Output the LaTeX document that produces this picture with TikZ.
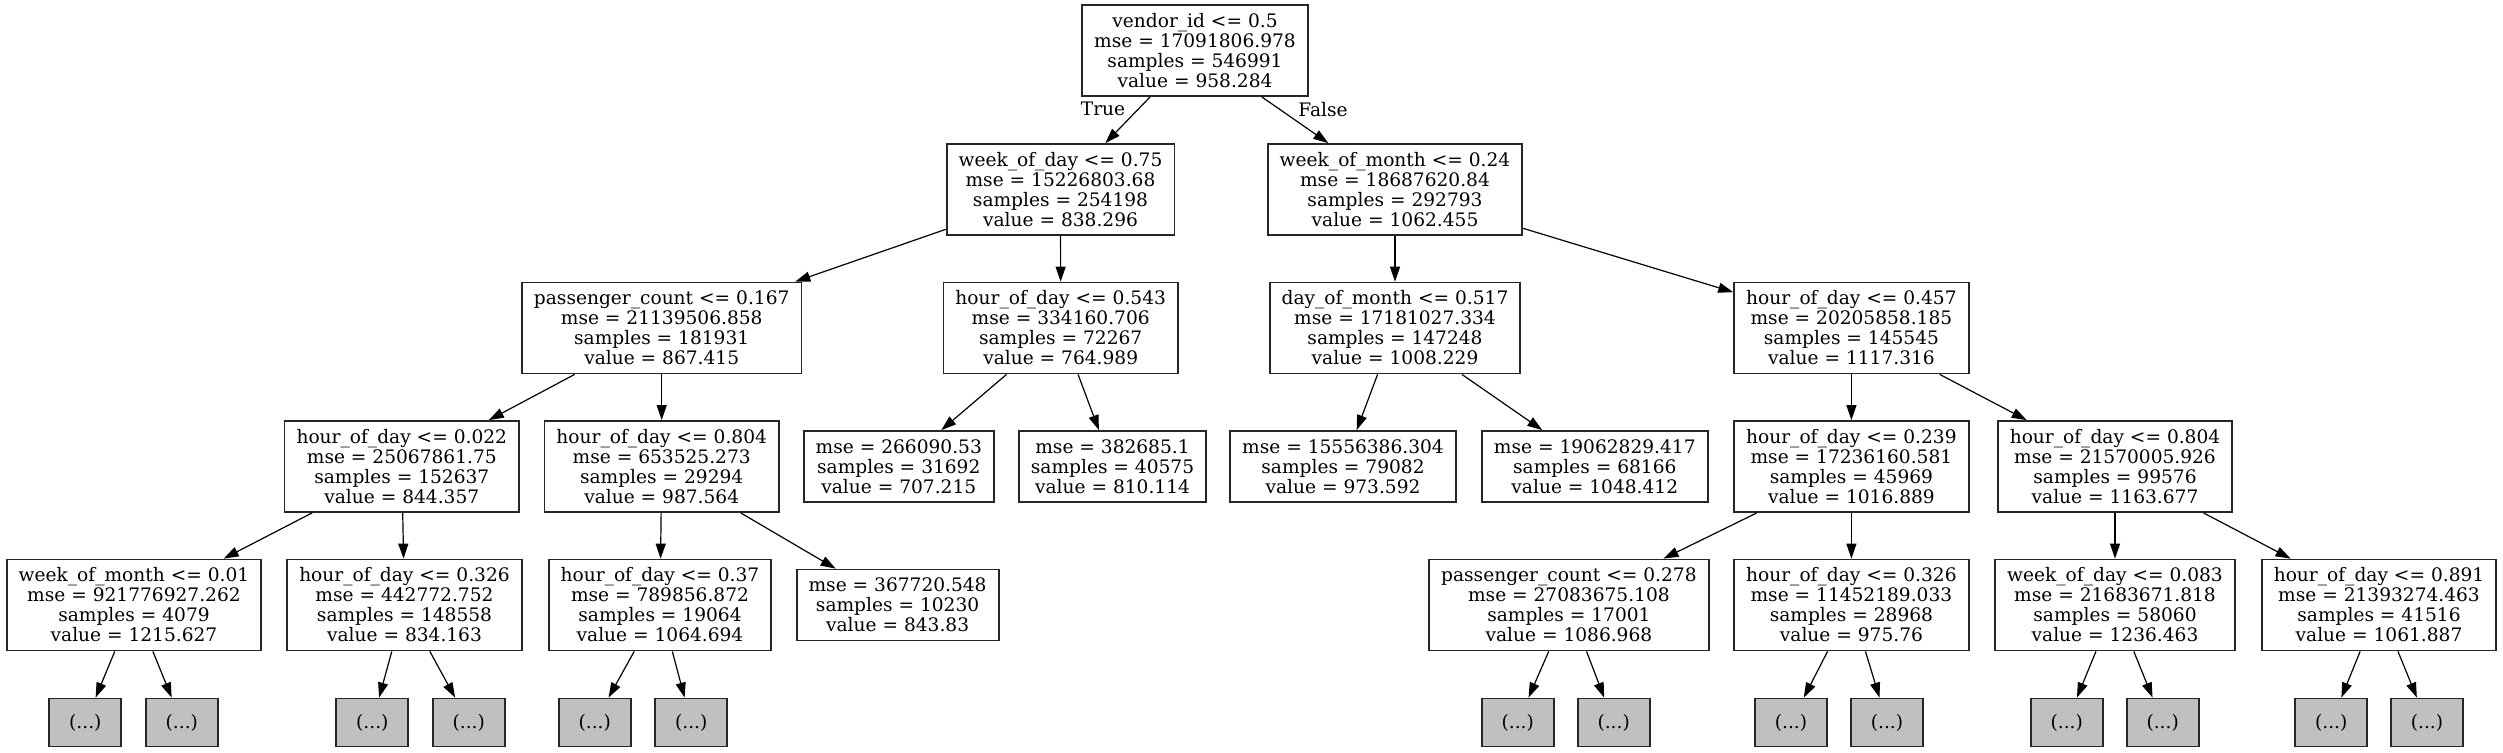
\documentclass[tikz,border=0pt]{standalone}
\usepackage{fontspec}
\setmainfont{DejaVu Serif}
\usetikzlibrary{arrows.meta}

\definecolor{elidedgray}{HTML}{C0C0C0}

\tikzset{
	every node/.style={font=\fontsize{9.3}{10}\selectfont},
	decision/.style={draw=black!85, line width=0.9pt, fill=white, align=center,
		inner xsep=6pt, inner ysep=0pt, minimum height=45.5pt},
	leafbox/.style={decision, minimum height=35.5pt},
	elided/.style={draw=black!85, line width=0.9pt, fill=elidedgray,
		minimum width=36pt, minimum height=24pt, inner sep=0pt},
	edge/.style={-{Triangle[length=7.5pt,width=5pt]}, line width=0.6pt},
}

\begin{document}
\begin{tikzpicture}[x=0.5pt, y=-0.5pt]
		\useasboundingbox (0, 0) rectangle (2503, 752);
		% level 0 - 2
		\node[decision] (root) at (1195, 50.5) {vendor\_id <= 0.5\\mse = 17091806.978\\samples = 546991\\value = 958.284};
		\node[decision] (wd) at (1060.5, 189.5) {week\_of\_day <= 0.75\\mse = 15226803.68\\samples = 254198\\value = 838.296};
		\node[decision] (wm) at (1395, 189.5) {week\_of\_month <= 0.24\\mse = 18687620.84\\samples = 292793\\value = 1062.455};
		\node[decision] (pc) at (661.7, 328) {passenger\_count <= 0.167\\mse = 21139506.858\\samples = 181931\\value = 867.415};
		\node[decision] (hdA) at (1060.7, 328) {hour\_of\_day <= 0.543\\mse = 334160.706\\samples = 72267\\value = 764.989};
		\node[decision] (dm) at (1395, 328) {day\_of\_month <= 0.517\\mse = 17181027.334\\samples = 147248\\value = 1008.229};
		\node[decision] (hdB) at (1851.4, 328) {hour\_of\_day <= 0.457\\mse = 20205858.185\\samples = 145545\\value = 1117.316};
		% level 3
		\node[decision] (hdC) at (401.8, 466.5) {hour\_of\_day <= 0.022\\mse = 25067861.75\\samples = 152637\\value = 844.357};
		\node[decision] (hdD) at (661.7, 466.5) {hour\_of\_day <= 0.804\\mse = 653525.273\\samples = 29294\\value = 987.564};
		\node[leafbox] (lfA) at (898.8, 466.5) {mse = 266090.53\\samples = 31692\\value = 707.215};
		\node[leafbox] (lfB) at (1112.5, 466.5) {mse = 382685.1\\samples = 40575\\value = 810.114};
		\node[leafbox] (lfC) at (1343, 466.5) {mse = 15556386.304\\samples = 79082\\value = 973.592};
		\node[leafbox] (lfD) at (1594.8, 466.5) {mse = 19062829.417\\samples = 68166\\value = 1048.412};
		\node[decision] (hdE) at (1851.4, 466.5) {hour\_of\_day <= 0.239\\mse = 17236160.581\\samples = 45969\\value = 1016.889};
		\node[decision] (hdF) at (2115, 466.5) {hour\_of\_day <= 0.804\\mse = 21570005.926\\samples = 99576\\value = 1163.677};
		% level 4
		\node[decision] (wmB) at (134, 605) {week\_of\_month <= 0.01\\mse = 921776927.262\\samples = 4079\\value = 1215.627};
		\node[decision] (hdG) at (404.5, 605) {hour\_of\_day <= 0.326\\mse = 442772.752\\samples = 148558\\value = 834.163};
		\node[decision] (hdH) at (660, 605) {hour\_of\_day <= 0.37\\mse = 789856.872\\samples = 19064\\value = 1064.694};
		\node[leafbox] (lfE) at (897.6, 605) {mse = 367720.548\\samples = 10230\\value = 843.83};
		\node[decision] (pcB) at (1568.9, 605) {passenger\_count <= 0.278\\mse = 27083675.108\\samples = 17001\\value = 1086.968};
		\node[decision] (hdI) at (1851.4, 605) {hour\_of\_day <= 0.326\\mse = 11452189.033\\samples = 28968\\value = 975.76};
		\node[decision] (wdB) at (2115, 605) {week\_of\_day <= 0.083\\mse = 21683671.818\\samples = 58060\\value = 1236.463};
		\node[decision] (hdJ) at (2379, 605) {hour\_of\_day <= 0.891\\mse = 21393274.463\\samples = 41516\\value = 1061.887};
		% truncated subtrees
		\foreach \n/\x in {eA/85.3, eB/181.8, eC/372.3, eD/468.7, eE/594.7, eF/691.2,
			eG/1517.7, eH/1613.6, eI/1791, eJ/1887, eK/2066.7, eL/2162.6, eM/2331.2, eN/2427} {
			\node[elided] (\n) at (\x, 722.5) {(...)};
		}
		% branch labels
		\node (true) at (1103, 109) {True};
		\node (false) at (1323, 110) {False};
		% edges
		\foreach \p/\c in {root/wd, root/wm, wd/pc, wd/hdA, wm/dm, wm/hdB,
			pc/hdC, pc/hdD, hdA/lfA, hdA/lfB, dm/lfC, dm/lfD, hdB/hdE, hdB/hdF,
			hdC/wmB, hdC/hdG, hdD/hdH, hdD/lfE, hdE/pcB, hdE/hdI, hdF/wdB, hdF/hdJ,
			wmB/eA, wmB/eB, hdG/eC, hdG/eD, hdH/eE, hdH/eF,
			pcB/eG, pcB/eH, hdI/eI, hdI/eJ, wdB/eK, wdB/eL, hdJ/eM, hdJ/eN} {
			\draw[edge] (\p) -- (\c);
		}
	\end{tikzpicture}
\end{document}
